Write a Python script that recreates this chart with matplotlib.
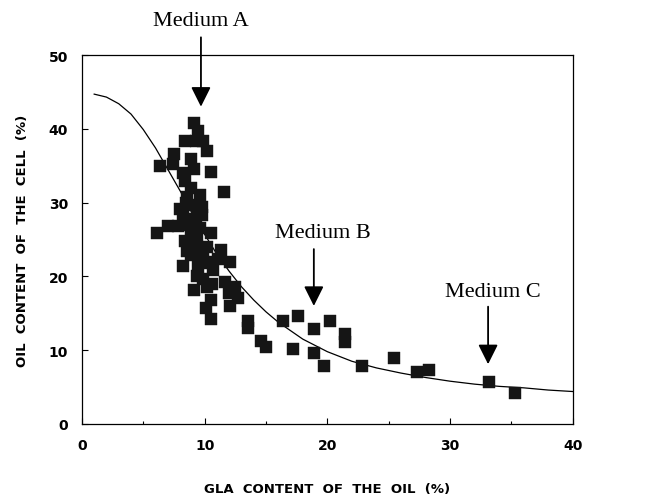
import numpy as np
import matplotlib.pyplot as plt

# mitatut pisteet: GLA-pitoisuus öljyssä (%) ja öljypitoisuus solussa (%)
gla = [9.1, 9.5, 8.4, 9.3, 9.9, 10.2, 7.5, 7.4, 6.4, 8.9, 9.1, 10.5, 8.2, 8.4,
       11.6, 8.6, 9.1, 8.0, 9.4, 9.8, 8.2, 9.8, 9.0, 7.0, 7.8, 6.1, 9.3, 8.9,
       10.5, 8.4, 9.4, 9.1, 10.2, 11.3, 8.9, 9.9, 11.1, 12.1, 8.2, 9.5, 10.7,
       9.9, 11.7, 12.5, 10.2, 9.1, 12.0, 12.7, 10.5, 12.1, 10.1, 10.5, 13.5,
       13.5, 14.6, 15.0, 16.4, 17.6, 18.9, 17.2, 18.9, 19.7, 20.2, 21.4, 21.4,
       22.8, 25.4, 27.3, 28.3, 33.2, 35.3,
       8.7, 9.6, 9.2, 8.6, 9.7, 10.4, 9.4, 10.6, 8.9, 9.6, 10.0, 8.5]
oil = [40.8, 39.7, 38.3, 38.3, 38.3, 37.0, 36.6, 35.2, 35.0, 35.9, 34.6, 34.1,
       34.0, 32.9, 31.4, 30.8, 29.7, 29.1, 28.7, 29.4, 28.3, 28.3, 27.8, 26.8,
       26.8, 25.9, 27.2, 26.3, 25.9, 24.8, 25.2, 23.7, 24.0, 23.6, 22.9, 22.6,
       22.4, 22.0, 21.4, 21.3, 20.9, 19.6, 19.2, 18.6, 18.6, 18.2, 17.8, 17.1,
       16.8, 16.0, 15.7, 14.2, 14.0, 13.0, 11.2, 10.4, 14.0, 14.6, 12.9, 10.2,
       9.6, 7.9, 14.0, 12.2, 11.1, 7.9, 8.9, 7.0, 7.3, 5.7, 4.2,
       27.0, 26.5, 24.5, 23.5, 23.3, 22.0, 20.0, 19.0, 32.0, 31.0, 21.8, 30.0]

# sovitettu käyrä
kayra_x = [1, 2, 3, 4, 5, 6, 7, 8, 9, 10, 11, 12, 13, 14, 15, 16, 18, 20, 22,
           24, 26, 28, 30, 32, 34, 36, 38, 40]
kayra_y = [44.7, 44.3, 43.4, 42.0, 39.9, 37.4, 34.5, 31.6, 28.5, 25.7, 23.0,
           20.7, 18.6, 16.8, 15.2, 13.8, 11.5, 9.8, 8.5, 7.6, 6.9, 6.3, 5.8,
           5.4, 5.1, 4.9, 4.6, 4.4]

# kasvatusalustat: nimi, nuolen kärki, nuolen alku, tekstin paikka
alustat = ["Medium A", "Medium B", "Medium C"]
karki = [(9.7, 43.0), (18.9, 16.0), (33.1, 8.1)]
alku = [(9.7, 52.4), (18.9, 23.7), (33.1, 15.9)]
teksti = [(9.7, 54.7), (19.6, 25.9), (33.5, 18.0)]

fig = plt.figure(figsize=(6.45, 5.02), dpi=100)
ax = fig.add_axes([0.127, 0.1534, 0.761, 0.735])

ax.plot(kayra_x, kayra_y, color='black', lw=0.9)
ax.plot(gla, oil, 's', color='#151515', ms=8, mec='#151515', mew=0.3)

for nimi, k, a, t in zip(alustat, karki, alku, teksti):
    ax.annotate('', xy=k, xytext=a, annotation_clip=False,
                arrowprops=dict(arrowstyle='-|>,head_length=12,head_width=6',
                                mutation_scale=1, lw=1.3, color='black',
                                shrinkA=0, shrinkB=0))
    ax.text(t[0], t[1], nimi, family='Liberation Serif', fontsize=16,
            ha='center', va='center', clip_on=False)

ax.set_xlim(0, 40)
ax.set_ylim(0, 50)
ax.set_xticks(np.arange(0, 41, 10))
ax.set_xticks(np.arange(0, 41, 5), minor=True)
ax.set_yticks(np.arange(0, 51, 10))
ax.tick_params(direction='in', length=4, width=0.8, pad=10, labelsize=10)
ax.tick_params(which='minor', direction='in', length=2.5, width=0.8)
for lab in ax.get_xticklabels() + ax.get_yticklabels():
    lab.set_fontweight('bold')
for s in ax.spines.values():
    s.set_linewidth(0.9)

ax.set_xlabel('GLA  CONTENT  OF  THE  OIL  (%)', fontsize=9.5,
              fontweight='bold', labelpad=22)
ax.set_ylabel('OIL  CONTENT  OF  THE  CELL  (%)', fontsize=9.5,
              fontweight='bold', labelpad=14)

fig.savefig('out.png', dpi=100)
